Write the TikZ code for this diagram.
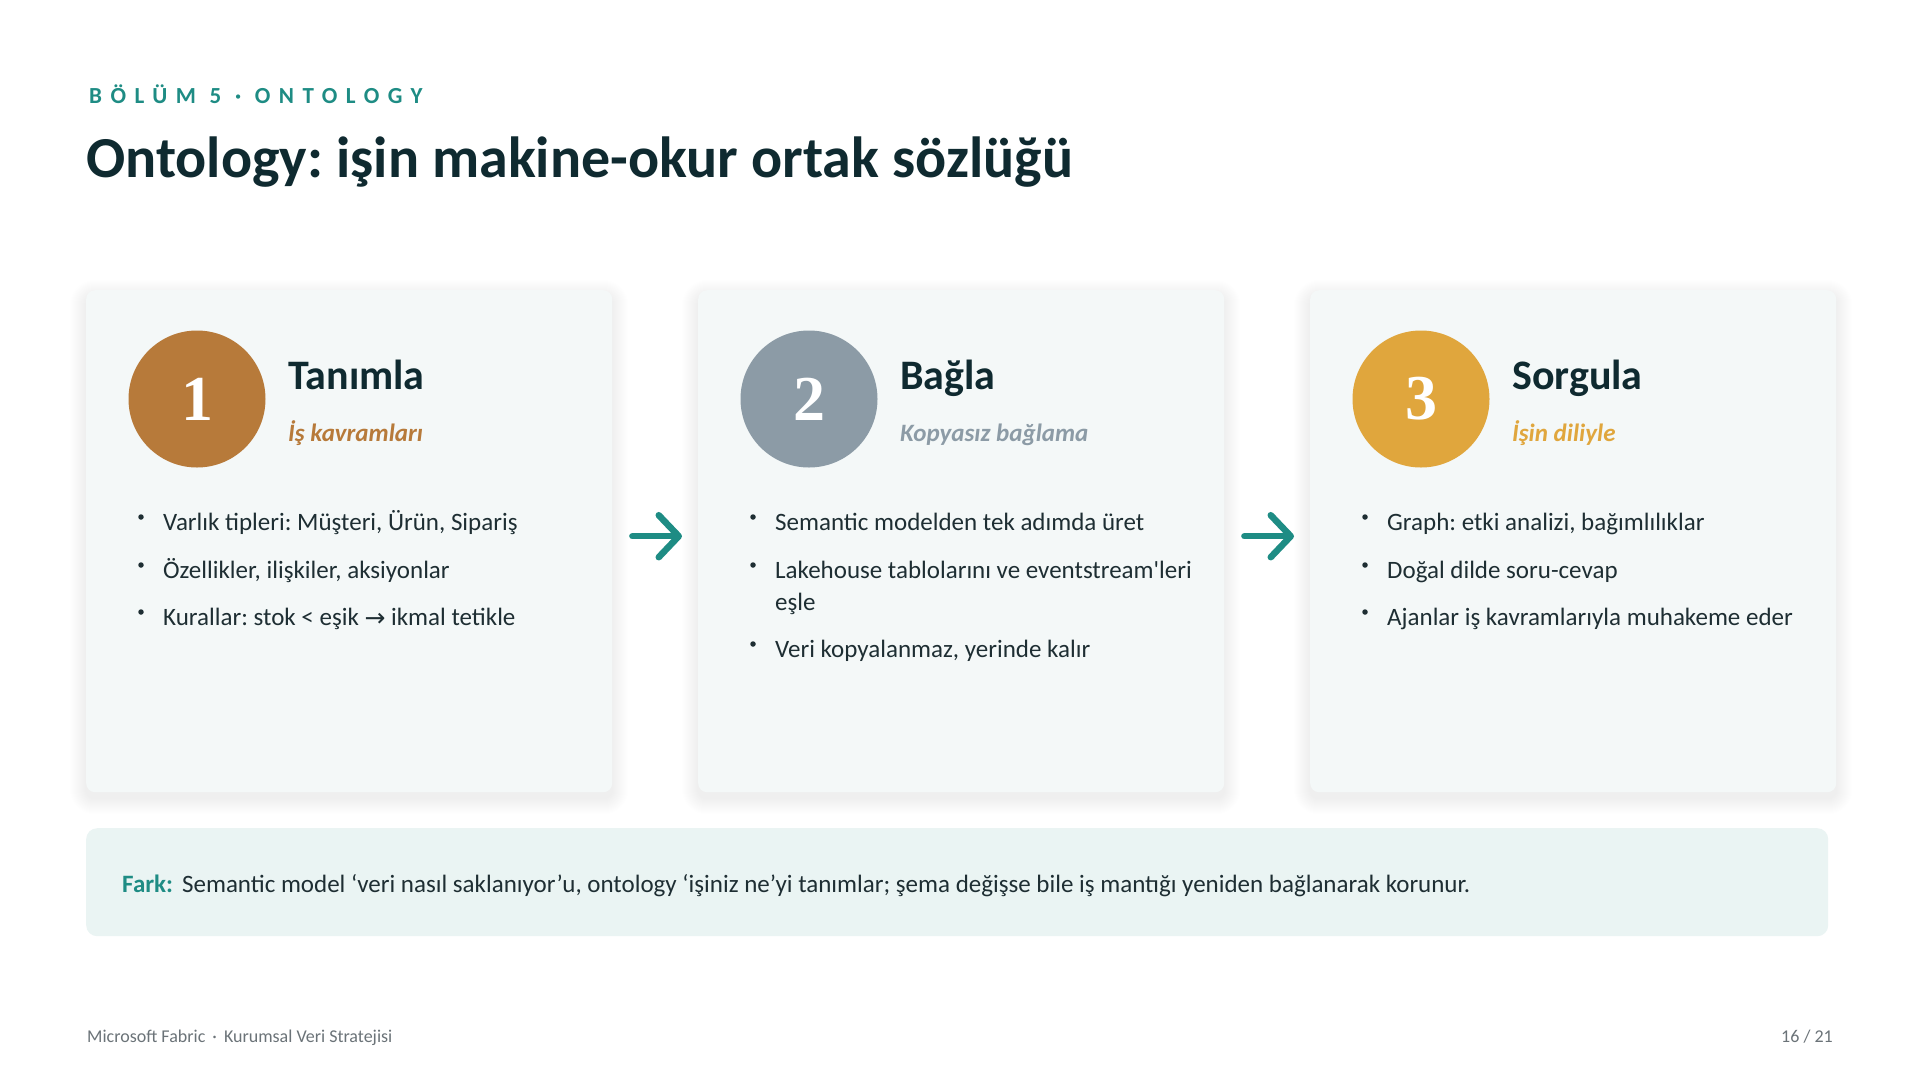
\documentclass[tikz,border=0pt]{standalone}
\usepackage{fontspec}
\setmainfont{Carlito}
\newfontfamily\plainfont{Carlito}
\newfontfamily\numfont{Liberation Serif}
\newfontfamily\symfont{DejaVu Sans}
\newfontfamily\spacedfont[LetterSpace=37]{Carlito}
\usetikzlibrary{arrows.meta}
\pgfdeclarelayer{background}
\pgfsetlayers{background,main}
\frenchspacing
\definecolor{teal}{HTML}{1E8C84}
\definecolor{titlecol}{HTML}{0F2A30}
\definecolor{bodycol}{HTML}{1E2E33}
\definecolor{cardfill}{HTML}{F4F8F8}
\definecolor{notefill}{HTML}{EAF4F3}
\definecolor{cone}{HTML}{B77A3A}
\definecolor{ctwo}{HTML}{8C9BA6}
\definecolor{cthree}{HTML}{E0A63D}
\definecolor{footcol}{HTML}{6B7378}
\tikzset{
  txt/.style={inner sep=0pt, anchor=base west},
  card/.style={draw=none, fill=cardfill, rounded corners=9pt, inner sep=0pt,
    minimum width=526pt, minimum height=502pt, anchor=north west},
  numcirc/.style={circle, inner sep=0pt, minimum size=137pt, text=white,
    font=\numfont\bfseries\fontsize{64}{64}\selectfont},
  cardtitle/.style={txt, text=titlecol, font=\bfseries\fontsize{42}{46}\selectfont},
  cardsub/.style={txt, font=\bfseries\itshape\fontsize{25}{29}\selectfont},
  bullettxt/.style={txt, text=bodycol, font=\fontsize{25}{32}\selectfont},
  dot/.style={circle, fill=bodycol, inner sep=0pt, minimum size=5.5pt},
  flowarrow/.style={draw=teal, line width=6.5pt, line cap=round,
    -{Straight Barb[length=20pt, width=42pt, round]}, shorten <=20pt, shorten >=16pt},
  shadowstep/.style={fill=black, opacity=0.0048},
}
\begin{document}
\begin{tikzpicture}[x=1pt,y=-1pt]
\useasboundingbox (0,0) rectangle (1920,1080);

% header
\node[txt, text=teal, font=\spacedfont\bfseries\fontsize{23}{26}\selectfont] (kicker) at (89,103) {BÖLÜM 5 · ONTOLOGY};
\node[txt, text=titlecol, font=\bfseries\fontsize{58}{62}\selectfont] (title) at (86,177) {Ontology: işin makine-okur ortak sözlüğü};

% cards
\node[card] (c1) at (86,290) {};
\node[card] (c2) at (698,290) {};
\node[card] (c3) at (1310,290) {};

% page background and soft shadows
\begin{pgfonlayer}{background}
\fill[white] (0,0) rectangle (1920,1080);
\foreach \c in {c1,c2,c3}{
  \foreach \i in {1,...,16}{
    \fill[shadowstep, rounded corners=9+\i]
      ([shift={(-\i,-\i+6)}]\c.north west) rectangle ([shift={(\i,\i+6)}]\c.south east);
  }
}
\end{pgfonlayer}

% card 1
\node[numcirc, fill=cone] (n1) at (197,399) {\raisebox{-5pt}{1}};
\node[cardtitle] (t1) at (288,389) {Tanımla};
\node[cardsub, text=cone] (s1) at (288,441) {İş kavramları};
\node[dot] (d11) at (141,517) {};
\node[bullettxt] (b11) at (163,530) {Varlık tipleri: Müşteri, Ürün, Sipariş};
\node[dot] (d12) at (141,565) {};
\node[bullettxt] (b12) at (163,578) {Özellikler, ilişkiler, aksiyonlar};
\node[dot] (d13) at (141,612) {};
\node[bullettxt] (b13) at (163,625) {Kurallar: stok < eşik {\symfont\fontsize{25}{26}\selectfont\raisebox{-1pt}{→}} ikmal tetikle};

% card 2
\node[numcirc, fill=ctwo] (n2) at (809,399) {\raisebox{-5pt}{2}};
\node[cardtitle] (t2) at (900,389) {Bağla};
\node[cardsub, text=ctwo] (s2) at (900,441) {Kopyasız bağlama};
\node[dot] (d21) at (753,517) {};
\node[bullettxt] (b21) at (775,530) {Semantic modelden tek adımda üret};
\node[dot] (d22) at (753,565) {};
\node[bullettxt] (b22) at (775,578) {Lakehouse tablolarını ve eventstream{\plainfont'}leri};
\node[bullettxt] (b22b) at (775,610) {eşle};
\node[dot] (d23) at (753,644) {};
\node[bullettxt] (b23) at (775,657) {Veri kopyalanmaz, yerinde kalır};

% card 3
\node[numcirc, fill=cthree] (n3) at (1421,399) {\raisebox{-5pt}{3}};
\node[cardtitle] (t3) at (1512,389) {Sorgula};
\node[cardsub, text=cthree] (s3) at (1512,441) {İşin diliyle};
\node[dot] (d31) at (1365,517) {};
\node[bullettxt] (b31) at (1387,530) {Graph: etki analizi, bağımlılıklar};
\node[dot] (d32) at (1365,565) {};
\node[bullettxt] (b32) at (1387,578) {Doğal dilde soru-cevap};
\node[dot] (d33) at (1365,612) {};
\node[bullettxt] (b33) at (1387,625) {Ajanlar iş kavramlarıyla muhakeme eder};

% arrows
\draw[flowarrow] ([yshift=5pt]c1.east) -- ([yshift=5pt]c2.west);
\draw[flowarrow] ([yshift=5pt]c2.east) -- ([yshift=5pt]c3.west);

% note box
\node[fill=notefill, rounded corners=11pt, minimum width=1742pt, minimum height=108pt, anchor=north west, inner sep=0pt] (note) at (86,828) {};
\node[txt, text=bodycol, font=\fontsize{25}{29}\selectfont] (notetxt) at (122,892) {{\color{teal}\bfseries Fark:}\hspace{9pt}Semantic model ‘veri nasıl saklanıyor’u, ontology ‘işiniz ne’yi tanımlar; şema değişse bile iş mantığı yeniden bağlanarak korunur.};

% footer
\node[txt, text=footcol, font=\fontsize{18}{20}\selectfont] (foot) at (87,1042) {Microsoft Fabric \,·\, Kurumsal Veri Stratejisi};
\node[inner sep=0pt, anchor=base east, text=footcol, font=\fontsize{18}{20}\selectfont] (page) at (1833,1042) {16 / 21};
\end{tikzpicture}
\end{document}
